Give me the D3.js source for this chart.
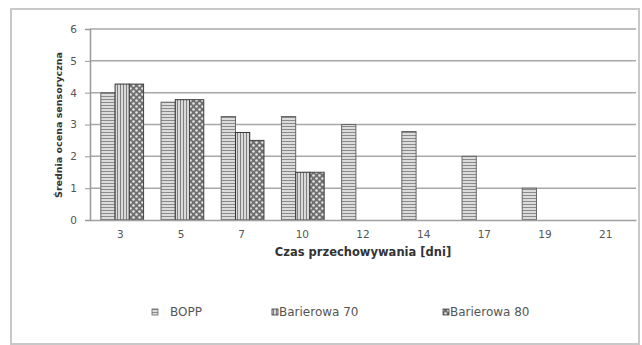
<!DOCTYPE html>
<html><head><meta charset="utf-8">
<script src="https://cdn.jsdelivr.net/npm/d3@7"></script>
<style>body{margin:0;background:#fff}svg{display:block}</style>
</head><body>
<svg id="c" width="642" height="345"></svg>
<script>
const categories = ["3","5","7","10","12","14","17","19","21"];
const seriesNames = ["BOPP","Barierowa 70","Barierowa 80"];
const bopp = [4.0, 3.7, 3.25, 3.25, 3.0, 2.78, 2.0, 1.0, 0];
const barierowa70 = [4.27, 3.78, 2.75, 1.5, 0, 0, 0, 0, 0];
const barierowa80 = [4.27, 3.78, 2.5, 1.5, 0, 0, 0, 0, 0];
const yTicks = [0,1,2,3,4,5,6];
const values = [bopp, barierowa70, barierowa80];

const svg = d3.select("#c");
const font = "'DejaVu Sans', Verdana, sans-serif";

// patterns
const defs = svg.append("defs");
const p1 = defs.append("pattern").attr("id","pBopp").attr("patternUnits","userSpaceOnUse").attr("width",4).attr("height",3);
p1.append("rect").attr("width",4).attr("height",3).attr("fill","#dcdcdc");
p1.append("rect").attr("y",0).attr("width",4).attr("height",1).attr("fill","#8a8a8a");
const p2 = defs.append("pattern").attr("id","pB70").attr("patternUnits","userSpaceOnUse").attr("width",3).attr("height",4);
p2.append("rect").attr("width",3).attr("height",4).attr("fill","#dadada");
p2.append("rect").attr("x",0).attr("width",1).attr("height",4).attr("fill","#808080");
const p3 = defs.append("pattern").attr("id","pB80").attr("patternUnits","userSpaceOnUse").attr("width",6).attr("height",6);
p3.append("rect").attr("width",6).attr("height",6).attr("fill","#707070");
p3.append("circle").attr("cx",1.5).attr("cy",1.5).attr("r",1.3).attr("fill","#e6e6e6");
p3.append("circle").attr("cx",4.5).attr("cy",4.5).attr("r",1.3).attr("fill","#e6e6e6");
const fills = ["url(#pBopp)","url(#pB70)","url(#pB80)"];
const strokes = ["#666","#333","#444"];

// outer border
svg.append("rect").attr("x",11).attr("y",9).attr("width",628).attr("height",335)
  .attr("fill","none").attr("stroke","#c8c8c8").attr("stroke-width",2);

const m = {left:90, right:636, top:29, bottom:220};
const x = d3.scaleBand().domain(categories).range([m.left, m.right]).paddingInner(0.29).paddingOuter(0.18);
const xs = d3.scaleBand().domain(seriesNames).range([0, x.bandwidth()]);
const y = d3.scaleLinear().domain([0,6]).range([m.bottom, m.top]);

// grid
svg.append("g").selectAll("line").data(yTicks.filter(d=>d>0)).join("line")
  .attr("x1",m.left).attr("x2",m.right).attr("y1",d=>y(d)).attr("y2",d=>y(d))
  .attr("stroke","#a8a8a8").attr("stroke-width",1.5);

// bars
seriesNames.forEach((s,i)=>{
  svg.append("g").selectAll("rect").data(values[i].map((v,j)=>({v,c:categories[j]})).filter(d=>d.v>0)).join("rect")
    .attr("x",d=>x(d.c)+xs(s)).attr("width",xs.bandwidth())
    .attr("y",d=>y(d.v)).attr("height",d=>y(0)-y(d.v))
    .attr("fill",fills[i]).attr("stroke",strokes[i]).attr("stroke-width",1);
});

// y axis
const ya = svg.append("g").attr("transform",`translate(${m.left},0)`)
  .call(d3.axisLeft(y).tickValues(yTicks).tickFormat(d3.format("d")).tickSize(5).tickPadding(8));
ya.select(".domain").attr("stroke","#999").attr("stroke-width",1.5);
ya.selectAll(".tick line").attr("stroke","#999");
ya.selectAll("text").attr("font-family",font).attr("font-size",10.5).attr("fill","#555");

// x axis
const xa = svg.append("g").attr("transform",`translate(0,${m.bottom})`)
  .call(d3.axisBottom(d3.scaleBand().domain(categories).range([m.left,m.right])).tickSize(0).tickPadding(11));
xa.select(".domain").attr("stroke","#a0a0a0").attr("stroke-width",1.5);
xa.selectAll("text").attr("font-family",font).attr("font-size",10.5).attr("fill","#555");

// titles
svg.append("text").attr("x",(m.left+m.right)/2).attr("y",256).attr("text-anchor","middle")
  .attr("font-family",font).attr("font-size",11.5).attr("font-weight","bold").attr("fill","#333")
  .text("Czas przechowywania  [dni]");
svg.append("text").attr("transform","translate(62,125) rotate(-90)").attr("text-anchor","middle")
  .attr("font-family",font).attr("font-size",9.5).attr("font-weight","bold").attr("fill","#333")
  .text("Średnia ocena sensoryczna");

// legend
const legX = [152, 272, 443];
const legTxtX = [170, 279, 450];
seriesNames.forEach((s,i)=>{
  svg.append("rect").attr("x",legX[i]).attr("y",309).attr("width",6).attr("height",6)
    .attr("fill",fills[i]).attr("stroke",strokes[i]).attr("stroke-width",0.8);
  svg.append("text").attr("x",legTxtX[i]).attr("y",316)
    .attr("font-family",font).attr("font-size",12).attr("fill","#555").text(s);
});
</script>
</body></html>
